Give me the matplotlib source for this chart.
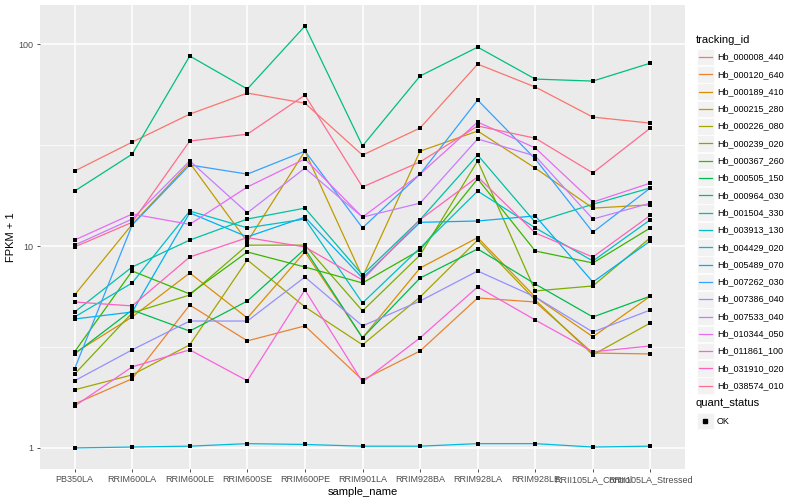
import numpy as np
import matplotlib
matplotlib.use("Agg")
import matplotlib.pyplot as plt
from matplotlib.lines import Line2D
from matplotlib.patches import Rectangle
from matplotlib.ticker import FixedLocator, NullFormatter

plt.rcParams["font.family"] = ["Liberation Sans", "DejaVu Sans"]

samples = ["PB350LA", "RRIM600LA", "RRIM600LE", "RRIM600SE", "RRIM600PE",
           "RRIM901LA", "RRIM928BA", "RRIM928LA", "RRIM928LE",
           "RRII105LA_Control", "RRII105LA_Stressed"]

tracking_ids = ["Hb_000008_440", "Hb_000120_640", "Hb_000189_410", "Hb_000215_280",
                "Hb_000226_080", "Hb_000239_020", "Hb_000367_260", "Hb_000505_150",
                "Hb_000964_030", "Hb_001504_330", "Hb_003913_130", "Hb_004429_020",
                "Hb_005489_070", "Hb_007262_030", "Hb_007386_040", "Hb_007533_040",
                "Hb_010344_050", "Hb_011861_100", "Hb_031910_020", "Hb_038574_010"]

# ggplot hue palette, 20 levels
hue_colors = ["#F8766D", "#EA8331", "#D89000", "#C09B00", "#A3A500", "#7CAE00",
              "#39B600", "#00BB4E", "#00BF7D", "#00C1A3", "#00BFC4", "#00BAE0",
              "#00B0F6", "#35A2FF", "#9590FF", "#C77CFF", "#E76BF3", "#FA62DB",
              "#FF62BC", "#FF6C91"]

# FPKM + 1 per sample (same order as samples)
hb_000008_440 = [23.5, 32.7, 45.0, 57.2, 51.0, 28.2, 38.4, 79.6, 61.3, 43.5, 40.6]
hb_000120_640 = [1.65, 2.20, 5.10, 3.39, 4.02, 2.17, 3.02, 5.53, 5.28, 2.95, 2.92]
hb_000189_410 = [2.95, 4.45, 7.35, 4.40, 9.34, 3.51, 7.78, 11.0, 5.59, 3.55, 5.65]
hb_000215_280 = [5.72, 12.8, 25.8, 10.5, 29.5, 7.02, 29.5, 37.1, 24.3, 15.4, 16.0]
hb_000226_080 = [1.94, 2.30, 3.24, 8.53, 4.99, 3.24, 5.59, 10.7, 5.40, 2.89, 4.16]
hb_000239_020 = [2.32, 4.66, 5.72, 10.1, 10.1, 4.77, 9.02, 26.4, 5.99, 6.34, 11.0]
hb_000367_260 = [2.99, 7.52, 5.79, 9.34, 7.87, 6.56, 9.56, 21.5, 9.45, 8.24, 12.3]
hb_000505_150 = [2.92, 4.82, 3.79, 5.34, 9.67, 3.51, 6.94, 9.67, 6.48, 4.45, 5.65]
hb_000964_030 = [18.7, 28.5, 87.3, 59.9, 122.8, 31.3, 69.5, 96.6, 67.1, 65.6, 80.5]
hb_001504_330 = [4.71, 7.87, 10.7, 13.6, 15.4, 7.19, 13.5, 28.2, 13.1, 16.1, 19.4]
hb_003913_130 = [4.45, 6.56, 14.9, 12.3, 13.6, 5.22, 9.78, 18.7, 12.3, 8.43, 13.5]
hb_004429_020 = [1.00, 1.01, 1.02, 1.05, 1.04, 1.02, 1.02, 1.05, 1.05, 1.01, 1.02]
hb_005489_070 = [4.35, 4.71, 14.6, 11.1, 13.9, 6.94, 13.1, 13.3, 14.1, 6.63, 10.6]
hb_007262_030 = [2.46, 12.7, 25.2, 22.7, 29.5, 12.3, 22.7, 52.8, 27.0, 11.7, 19.4]
hb_007386_040 = [2.15, 3.06, 4.25, 4.25, 7.02, 4.02, 5.34, 7.52, 5.59, 3.75, 4.82]
hb_007533_040 = [10.1, 13.6, 26.4, 14.6, 24.3, 13.9, 16.3, 33.9, 27.9, 13.6, 16.3]
hb_010344_050 = [10.7, 14.4, 12.8, 19.6, 27.0, 13.9, 22.7, 41.1, 30.6, 16.5, 20.5]
hb_011861_100 = [1.61, 2.52, 3.06, 2.15, 6.06, 2.12, 3.51, 6.27, 4.30, 2.99, 3.20]
hb_031910_020 = [5.28, 5.05, 8.82, 11.0, 9.89, 6.79, 13.5, 22.0, 11.6, 8.82, 14.2]
hb_038574_010 = [9.89, 13.1, 33.1, 35.8, 55.9, 19.6, 26.1, 39.3, 34.2, 23.0, 38.4]

series = [hb_000008_440, hb_000120_640, hb_000189_410, hb_000215_280, hb_000226_080,
          hb_000239_020, hb_000367_260, hb_000505_150, hb_000964_030, hb_001504_330,
          hb_003913_130, hb_004429_020, hb_005489_070, hb_007262_030, hb_007386_040,
          hb_007533_040, hb_010344_050, hb_011861_100, hb_031910_020, hb_038574_010]

W, H = 800, 500
def fx(px): return px / W
def fy(py): return 1 - py / H

fig = plt.figure(figsize=(8, 5), dpi=100)
ax = fig.add_axes([fx(40), fy(469), (685 - 40) / W, (469 - 5) / H])
ax.set_facecolor("#EBEBEB")
for s in ax.spines.values():
    s.set_visible(False)

x = np.arange(len(samples))
for vals, c in zip(series, hue_colors):
    ax.plot(x, vals, color=c, lw=0.9, zorder=2)
for vals in series:
    ax.scatter(x, vals, marker="s", s=6, color="black", lw=0, zorder=3)

ax.set_yscale("log")
allv = np.concatenate([np.asarray(v) for v in series])
lo, hi = np.log10(allv.min()), np.log10(allv.max())
pad = 0.05 * (hi - lo)
ax.set_ylim(10 ** (lo - pad), 10 ** (hi + pad))
ax.set_xlim(-0.6, len(samples) - 0.4)

ax.set_yticks([1, 10, 100])
ax.set_yticklabels(["1", "10", "100"])
ax.yaxis.set_minor_locator(FixedLocator([10 ** 0.5, 10 ** 1.5]))
ax.yaxis.set_minor_formatter(NullFormatter())
ax.set_xticks(x)
ax.set_xticklabels(samples)

ax.grid(which="major", color="white", lw=1.1, zorder=0)
ax.grid(which="minor", axis="y", color="white", lw=0.5, zorder=0)
ax.set_axisbelow(True)
ax.tick_params(which="major", length=2.5, width=0.6, color="#333333",
               labelsize=6.5, labelcolor="#4D4D4D", pad=2)
ax.tick_params(which="minor", length=0)

ax.set_xlabel("sample_name", fontsize=8, labelpad=2)
ax.set_ylabel("FPKM + 1", fontsize=8, labelpad=2)

# legend, drawn by hand ggplot-style
fig.text(fx(696), fy(40), "tracking_id", fontsize=8, va="center", ha="left")
key_y0, key_dy = 57, 17.3
for i, (name, c) in enumerate(zip(tracking_ids, hue_colors)):
    yc = key_y0 + i * key_dy
    fig.add_artist(Rectangle((fx(697), fy(yc + 8.3)), 16.6 / W, 16.6 / H,
                             transform=fig.transFigure, facecolor="#F2F2F2",
                             edgecolor="white", lw=0.5))
    fig.add_artist(Line2D([fx(699), fx(712)], [fy(yc), fy(yc)],
                          transform=fig.transFigure, color=c, lw=0.9))
    fig.text(fx(717), fy(yc), name, fontsize=6.5, va="center", ha="left")

fig.text(fx(696), fy(403), "quant_status", fontsize=8, va="center", ha="left")
yc = 421
fig.add_artist(Rectangle((fx(697), fy(yc + 8.3)), 16.6 / W, 16.6 / H,
                         transform=fig.transFigure, facecolor="#F2F2F2",
                         edgecolor="white", lw=0.5))
fig.add_artist(Line2D([fx(705)], [fy(yc)], transform=fig.transFigure,
                      marker="s", markersize=2.5, color="black", lw=0))
fig.text(fx(717), fy(yc), "OK", fontsize=6.5, va="center", ha="left")

fig.savefig("out.png", dpi=100)
